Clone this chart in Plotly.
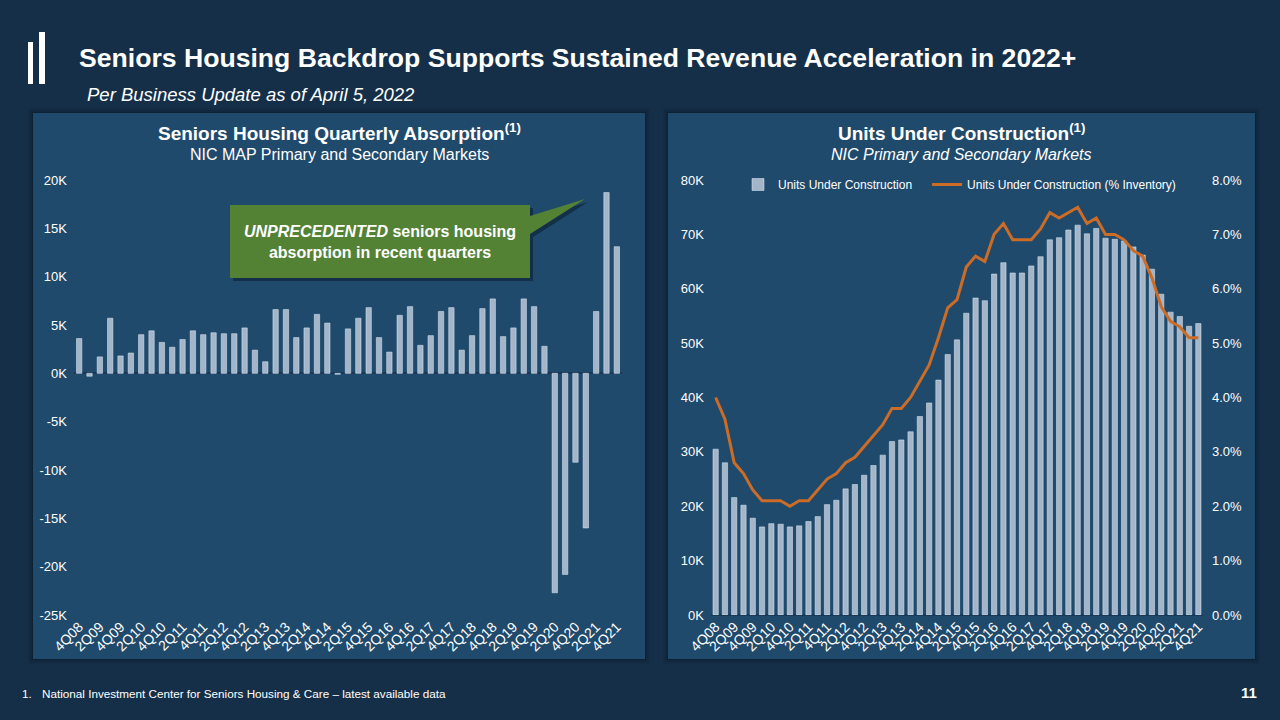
import plotly.graph_objects as go

W, H = 1280, 720

# ---------------- data ----------------
quarters = ["4Q08",
            "1Q09", "2Q09", "3Q09", "4Q09", "1Q10", "2Q10", "3Q10", "4Q10",
            "1Q11", "2Q11", "3Q11", "4Q11", "1Q12", "2Q12", "3Q12", "4Q12",
            "1Q13", "2Q13", "3Q13", "4Q13", "1Q14", "2Q14", "3Q14", "4Q14",
            "1Q15", "2Q15", "3Q15", "4Q15", "1Q16", "2Q16", "3Q16", "4Q16",
            "1Q17", "2Q17", "3Q17", "4Q17", "1Q18", "2Q18", "3Q18", "4Q18",
            "1Q19", "2Q19", "3Q19", "4Q19", "1Q20", "2Q20", "3Q20", "4Q20",
            "1Q21", "2Q21", "3Q21", "4Q21"]

# Seniors housing quarterly absorption (thousand units)
absorption_k = [3.6, -0.3, 1.7, 5.7, 1.8, 2.1, 4.0, 4.4, 3.2, 2.7, 3.5, 4.4, 4.0,
                4.2, 4.1, 4.1, 4.7, 2.4, 1.2, 6.6, 6.6, 3.7, 4.7, 6.1, 5.2, -0.1,
                4.6, 5.7, 6.8, 3.7, 2.2, 6.0, 6.9, 2.9, 3.9, 6.4, 6.8, 2.4, 3.9,
                6.7, 7.7, 3.8, 4.7, 7.7, 6.9, 2.8, -22.7, -20.8, -9.2, -16.0,
                6.4, 18.7, 13.1]

# Units under construction (thousand units)
units_k = [30.5, 28.0, 21.6, 20.2, 17.8, 16.2, 16.8, 16.7, 16.2, 16.4, 17.2, 18.1,
           20.3, 21.1, 23.2, 24.0, 25.7, 27.5, 29.4, 31.9, 32.2, 33.7, 36.5, 39.0,
           43.2, 47.9, 50.6, 55.5, 58.3, 57.8, 62.7, 64.8, 62.9, 62.9, 64.2, 65.9,
           69.0, 69.4, 70.8, 71.7, 70.1, 71.1, 69.3, 69.1, 68.8, 67.7, 66.2, 63.6,
           59.0, 55.7, 54.9, 53.1, 53.6]

# Units under construction (% of inventory)
pct_inventory = [4.0, 3.6, 2.8, 2.6, 2.3, 2.1, 2.1, 2.1, 2.0, 2.1, 2.1, 2.3, 2.5,
                 2.6, 2.8, 2.9, 3.1, 3.3, 3.5, 3.8, 3.8, 4.0, 4.3, 4.6, 5.1, 5.65,
                 5.8, 6.4, 6.6, 6.5, 7.0, 7.2, 6.9, 6.9, 6.9, 7.1, 7.4, 7.3, 7.4,
                 7.5, 7.2, 7.3, 7.0, 7.0, 6.9, 6.7, 6.6, 6.2, 5.67, 5.4, 5.3, 5.1,
                 5.1]

left_tick_vals = [20, 15, 10, 5, 0, -5, -10, -15, -20, -25]
left_tick_text = ["20K", "15K", "10K", "5K", "0K", "-5K", "-10K", "-15K", "-20K", "-25K"]
right_tick_vals = [0, 10, 20, 30, 40, 50, 60, 70, 80]
right_tick_text = ["0K", "10K", "20K", "30K", "40K", "50K", "60K", "70K", "80K"]
pct_tick_vals = [0, 1, 2, 3, 4, 5, 6, 7, 8]
pct_tick_text = ["0.0%", "1.0%", "2.0%", "3.0%", "4.0%", "5.0%", "6.0%", "7.0%", "8.0%"]

# ---------------- styling ----------------
FONT = "Liberation Sans, Arial, sans-serif"
BG = "#152f48"
PANEL = "#1f4a6c"
BAR = "#a2b5c9"
ORANGE = "#cc6c27"
GREEN = "#548235"
WHITE = "#ffffff"
NBSP = "\u00a0"


def px(x):
    return x / W


def py(y):
    return 1 - y / H


fig = go.Figure()

fig.add_trace(go.Bar(x=quarters, y=absorption_k, marker_color=BAR, width=0.52,
                     xaxis="x", yaxis="y", showlegend=False,
                     name="Seniors Housing Quarterly Absorption"))
fig.add_trace(go.Bar(x=quarters, y=units_k, marker_color=BAR, width=0.57,
                     xaxis="x2", yaxis="y2",
                     name="Units Under Construction" + NBSP * 3))
fig.add_trace(go.Scatter(x=quarters, y=pct_inventory, mode="lines",
                         line=dict(color=ORANGE, width=3),
                         xaxis="x2", yaxis="y3",
                         name="Units Under Construction (% Inventory)"))

ytickfont = dict(family=FONT, size=13, color=WHITE)
xtickfont = dict(family=FONT, size=14, color=WHITE)

shapes = []
# panel shadows + panels
for (x0, y0, x1, y1) in [(33, 113, 645, 659), (668, 113, 1255, 659)]:
    for d, op in [(5, 0.10), (3, 0.15), (1, 0.25)]:
        shapes.append(dict(type="rect", xref="paper", yref="paper", layer="below",
                           x0=px(x0 - d), x1=px(x1 + d), y0=py(y1 + d), y1=py(y0 - d),
                           fillcolor=f"rgba(5,15,30,{op})", line_width=0))
    shapes.append(dict(type="rect", xref="paper", yref="paper", layer="below",
                       x0=px(x0), x1=px(x1), y0=py(y1), y1=py(y0),
                       fillcolor=PANEL, line_width=0))

# logo bars
shapes.append(dict(type="rect", xref="paper", yref="paper", x0=px(28), x1=px(33),
                   y0=py(84), y1=py(42), fillcolor=WHITE, line_width=0))
shapes.append(dict(type="rect", xref="paper", yref="paper", x0=px(39), x1=px(45),
                   y0=py(84), y1=py(32), fillcolor=WHITE, line_width=0))


def callout_path(dx=0, dy=0):
    pts = [(230, 205), (530, 205), (530, 216), (585, 199), (530, 234),
           (530, 278), (230, 278)]
    s = "M " + " L ".join(f"{px(x + dx)},{py(y + dy)}" for x, y in pts) + " Z"
    return s


shapes.append(dict(type="path", xref="paper", yref="paper", path=callout_path(3, 3),
                   fillcolor="rgba(5,15,30,0.45)", line_width=0))
shapes.append(dict(type="path", xref="paper", yref="paper", path=callout_path(),
                   fillcolor=GREEN, line_width=0))

annotations = [
    dict(text="<b>Seniors Housing Backdrop Supports Sustained Revenue Acceleration in 2022+</b>",
         x=px(77), y=py(58), xanchor="left", yanchor="middle",
         font=dict(family=FONT, size=26.6, color=WHITE)),
    dict(text="<i>Per Business Update as of April 5, 2022</i>",
         x=px(85), y=py(95), xanchor="left", yanchor="middle",
         font=dict(family=FONT, size=18.5, color=WHITE)),
    dict(text="<b>Seniors Housing Quarterly Absorption<sup>(1)</sup></b>",
         x=px(339), y=py(132), xanchor="center", yanchor="middle",
         font=dict(family=FONT, size=19, color=WHITE)),
    dict(text="NIC MAP Primary and Secondary Markets",
         x=px(339), y=py(154), xanchor="center", yanchor="middle",
         font=dict(family=FONT, size=16, color=WHITE)),
    dict(text="<b>Units Under Construction<sup>(1)</sup></b>",
         x=px(961), y=py(132), xanchor="center", yanchor="middle",
         font=dict(family=FONT, size=19, color=WHITE)),
    dict(text="<i>NIC Primary and Secondary Markets</i>",
         x=px(961), y=py(154), xanchor="center", yanchor="middle",
         font=dict(family=FONT, size=16, color=WHITE)),
    dict(text="<b><i>UNPRECEDENTED</i> seniors housing<br>absorption in recent quarters</b>",
         x=px(380), y=py(242), xanchor="center", yanchor="middle",
         font=dict(family=FONT, size=16, color=WHITE)),
    dict(text="1.", x=px(20), y=py(693), xanchor="left", yanchor="middle",
         font=dict(family=FONT, size=11.7, color=WHITE)),
    dict(text="National Investment Center for Seniors Housing &amp; Care – latest available data",
         x=px(40), y=py(693), xanchor="left", yanchor="middle",
         font=dict(family=FONT, size=11.7, color=WHITE)),
    dict(text="<b>11</b>", x=px(1259), y=py(692), xanchor="right", yanchor="middle",
         font=dict(family=FONT, size=15, color=WHITE)),
]
for a in annotations:
    a.update(xref="paper", yref="paper", showarrow=False)

common_x = dict(type="category", tickmode="array", tickvals=quarters[::2],
                tickangle=-45, tickfont=xtickfont, showgrid=False, showline=False,
                ticks="", zeroline=False, automargin=False)

fig.update_layout(
    width=W, height=H,
    margin=dict(l=0, r=0, t=0, b=0, pad=0, autoexpand=False),
    paper_bgcolor=BG, plot_bgcolor="rgba(0,0,0,0)",
    font=dict(family=FONT, color=WHITE),
    shapes=shapes, annotations=annotations,
    showlegend=True,
    legend=dict(orientation="h", x=px(738), y=py(170), xanchor="left", yanchor="top",
                bgcolor="rgba(0,0,0,0)", font=dict(family=FONT, size=12, color=WHITE),
                traceorder="normal"),
    xaxis=dict(domain=[px(74), px(622)], anchor="y", **common_x),
    yaxis=dict(domain=[py(615), py(180)], anchor="x", range=[-25, 20],
               tickmode="array", tickvals=left_tick_vals, ticktext=left_tick_text,
               tickfont=ytickfont, showgrid=False, zeroline=True,
               zerolinecolor="#173a58", zerolinewidth=1.5, ticklabelstandoff=6,
               automargin=False),
    xaxis2=dict(domain=[px(711), px(1203)], anchor="y2", **common_x),
    yaxis2=dict(domain=[py(615), py(180)], anchor="x2", range=[0, 80],
                tickmode="array", tickvals=right_tick_vals, ticktext=right_tick_text,
                tickfont=ytickfont, showgrid=False, zeroline=True,
                zerolinecolor="#173a58", zerolinewidth=1.5, ticklabelstandoff=6,
                automargin=False),
    yaxis3=dict(overlaying="y2", side="right", anchor="x2", range=[0, 8],
                tickmode="array", tickvals=pct_tick_vals, ticktext=pct_tick_text,
                tickfont=ytickfont, showgrid=False, zeroline=False,
                ticklabelstandoff=8, automargin=False),
)

fig.write_html("out.html")
